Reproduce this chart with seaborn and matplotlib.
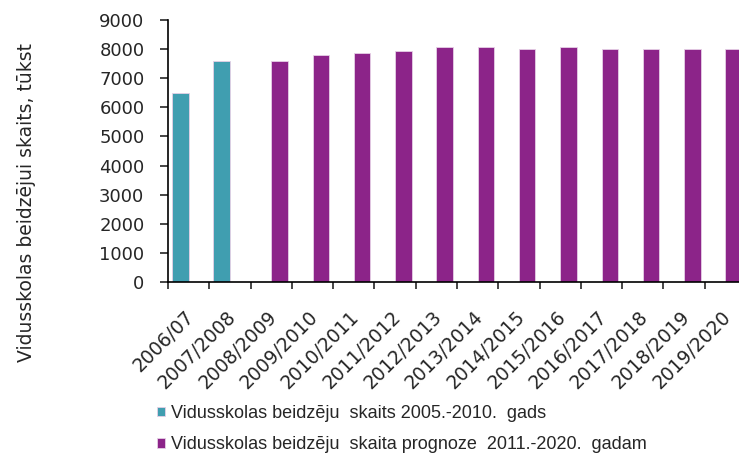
import numpy as np
import pandas as pd
import seaborn as sns
import matplotlib.pyplot as plt
from matplotlib.ticker import FixedLocator
from matplotlib.transforms import ScaledTranslation

gadi = ['2006/07', '2007/2008', '2008/2009', '2009/2010', '2010/2011', '2011/2012',
        '2012/2013', '2013/2014', '2014/2015', '2015/2016', '2016/2017', '2017/2018',
        '2018/2019', '2019/2020']
fakts = [6500, 7580, None, None, None, None, None, None, None, None, None, None, None, None]
prognoze = [None, None, 7580, 7800, 7870, 7940, 8070, 8070, 8000, 8070, 8000, 8000, 8000, 8000]
nos_fakts = 'Vidusskolas beidzēju  skaits 2005.-2010.  gads'
nos_prognoze = 'Vidusskolas beidzēju  skaita prognoze  2011.-2020.  gadam'

rindas = []
for g, a, b in zip(gadi, fakts, prognoze):
    if a is not None:
        rindas.append({'gads': g, 'vertiba': a, 'serija': nos_fakts})
    if b is not None:
        rindas.append({'gads': g, 'vertiba': b, 'serija': nos_prognoze})
df = pd.DataFrame(rindas)

sns.set_style('white')
plt.rcParams['font.family'] = ['DejaVu Sans']

fig = plt.figure(figsize=(7.39, 4.54), dpi=100)
ax = fig.add_axes([168 / 739, 1 - 282 / 454, 578 / 739, 262 / 454])

sns.barplot(data=df, x='gads', y='vertiba', hue='serija', order=gadi,
            hue_order=[nos_fakts, nos_prognoze],
            palette=['#409EB0', '#8C2489'], saturation=1, width=0.8, dodge=True,
            edgecolor='#e6d0e6', linewidth=0.6, ax=ax)

ax.set_xlim(-0.5, len(gadi) - 0.5)
ax.set_ylim(0, 9000)
ax.set_yticks(range(0, 9001, 1000))
ax.set_xlabel('')
ax.set_ylabel('Vidusskolas beidzējui skaits, tūkst', fontsize=13.5)
ax.yaxis.set_label_coords((36 - 168) / 578, (282 - 203) / 262)

sns.despine(ax=ax)
for s in ['left', 'bottom']:
    ax.spines[s].set_color('black')
    ax.spines[s].set_linewidth(1.2)

ax.tick_params(axis='y', direction='out', length=6, width=1.2, labelsize=13, pad=11, left=True)
ax.tick_params(axis='x', which='major', length=0, labelsize=13.5, pad=18)
ax.xaxis.set_minor_locator(FixedLocator(np.arange(-0.5, len(gadi), 1.0)))
ax.tick_params(axis='x', which='minor', direction='out', length=5, width=1.2, bottom=True)
nobide = ScaledTranslation(-4 / 100, 0, fig.dpi_scale_trans)
for lbl in ax.get_xticklabels():
    lbl.set_rotation(45)
    lbl.set_ha('right')
    lbl.set_rotation_mode('anchor')
    lbl.set_transform(lbl.get_transform() + nobide)

h, l = ax.get_legend_handles_labels()
ax.get_legend().remove()
fig.legend(h, l, loc='upper left', bbox_to_anchor=(157 / 739, 1 - 405 / 454),
           prop={'family': 'Liberation Sans', 'size': 13}, frameon=False,
           handlelength=0.45, handleheight=0.45, handletextpad=0.3,
           labelspacing=0.8, borderaxespad=0, borderpad=0)

fig.savefig('out.png', dpi=100)
